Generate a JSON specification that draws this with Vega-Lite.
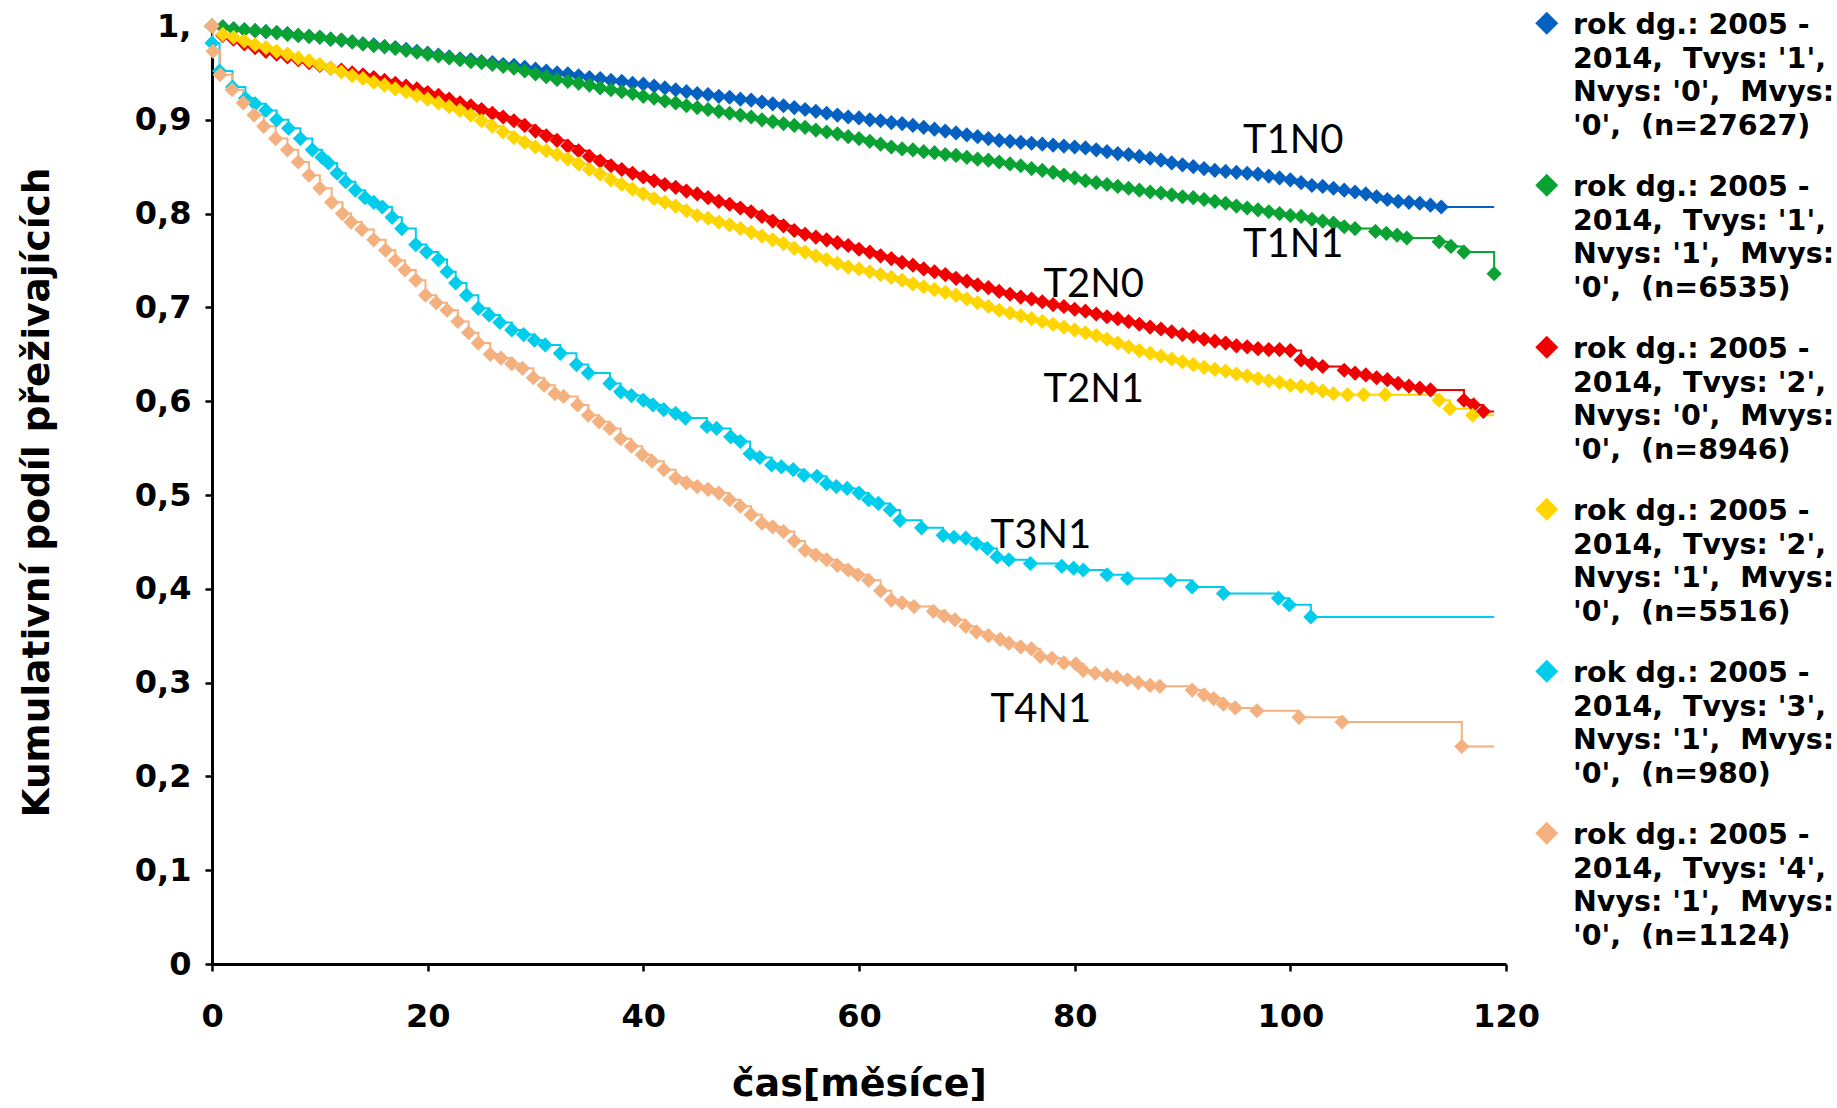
{
"$schema":"https://vega.github.io/schema/vega-lite/v6.json",
"autosize":{"type":"none"},
"padding":{"left":212,"top":26,"right":331,"bottom":144},
"width":1294,"height":938,
"background":"white",
"datasets":{
"pts":[
{"k":"T1N0","t":0,"s":1.0},{"k":"T1N0","t":1,"s":0.999},{"k":"T1N0","t":2,"s":0.997},{"k":"T1N0","t":3,"s":0.996},{"k":"T1N0","t":4,"s":0.995},{"k":"T1N0","t":5,"s":0.994},{"k":"T1N0","t":6,"s":0.993},{"k":"T1N0","t":7,"s":0.992},{"k":"T1N0","t":8,"s":0.990},{"k":"T1N0","t":9,"s":0.989},{"k":"T1N0","t":10,"s":0.988},{"k":"T1N0","t":11,"s":0.986},{"k":"T1N0","t":12,"s":0.985},{"k":"T1N0","t":13,"s":0.983},{"k":"T1N0","t":14,"s":0.981},{"k":"T1N0","t":15,"s":0.980},{"k":"T1N0","t":16,"s":0.978},{"k":"T1N0","t":17,"s":0.977},{"k":"T1N0","t":18,"s":0.975},{"k":"T1N0","t":19,"s":0.973},{"k":"T1N0","t":20,"s":0.971},{"k":"T1N0","t":21,"s":0.969},{"k":"T1N0","t":22,"s":0.967},{"k":"T1N0","t":23,"s":0.965},{"k":"T1N0","t":24,"s":0.964},{"k":"T1N0","t":25,"s":0.962},{"k":"T1N0","t":26,"s":0.961},{"k":"T1N0","t":27,"s":0.959},{"k":"T1N0","t":28,"s":0.958},{"k":"T1N0","t":29,"s":0.956},{"k":"T1N0","t":30,"s":0.954},{"k":"T1N0","t":31,"s":0.952},{"k":"T1N0","t":32,"s":0.950},{"k":"T1N0","t":33,"s":0.949},{"k":"T1N0","t":34,"s":0.947},{"k":"T1N0","t":35,"s":0.945},{"k":"T1N0","t":36,"s":0.944},{"k":"T1N0","t":37,"s":0.942},{"k":"T1N0","t":38,"s":0.941},{"k":"T1N0","t":39,"s":0.939},{"k":"T1N0","t":40,"s":0.938},{"k":"T1N0","t":41,"s":0.936},{"k":"T1N0","t":42,"s":0.934},{"k":"T1N0","t":43,"s":0.932},{"k":"T1N0","t":44,"s":0.930},{"k":"T1N0","t":45,"s":0.928},{"k":"T1N0","t":46,"s":0.927},{"k":"T1N0","t":47,"s":0.925},{"k":"T1N0","t":48,"s":0.924},{"k":"T1N0","t":49,"s":0.922},{"k":"T1N0","t":50,"s":0.921},{"k":"T1N0","t":51,"s":0.919},{"k":"T1N0","t":52,"s":0.917},{"k":"T1N0","t":53,"s":0.915},{"k":"T1N0","t":54,"s":0.913},{"k":"T1N0","t":55,"s":0.911},{"k":"T1N0","t":56,"s":0.909},{"k":"T1N0","t":57,"s":0.907},{"k":"T1N0","t":58,"s":0.905},{"k":"T1N0","t":59,"s":0.903},{"k":"T1N0","t":60,"s":0.902},{"k":"T1N0","t":61,"s":0.900},{"k":"T1N0","t":62,"s":0.899},{"k":"T1N0","t":63,"s":0.897},{"k":"T1N0","t":64,"s":0.896},{"k":"T1N0","t":65,"s":0.894},{"k":"T1N0","t":66,"s":0.892},{"k":"T1N0","t":67,"s":0.890},{"k":"T1N0","t":68,"s":0.888},{"k":"T1N0","t":69,"s":0.886},{"k":"T1N0","t":70,"s":0.884},{"k":"T1N0","t":71,"s":0.882},{"k":"T1N0","t":72,"s":0.880},{"k":"T1N0","t":73,"s":0.878},{"k":"T1N0","t":74,"s":0.877},{"k":"T1N0","t":75,"s":0.876},{"k":"T1N0","t":76,"s":0.875},{"k":"T1N0","t":77,"s":0.874},{"k":"T1N0","t":78,"s":0.873},{"k":"T1N0","t":79,"s":0.872},{"k":"T1N0","t":80,"s":0.871},{"k":"T1N0","t":81,"s":0.870},{"k":"T1N0","t":82,"s":0.868},{"k":"T1N0","t":83,"s":0.866},{"k":"T1N0","t":84,"s":0.864},{"k":"T1N0","t":85,"s":0.863},{"k":"T1N0","t":86,"s":0.861},{"k":"T1N0","t":87,"s":0.859},{"k":"T1N0","t":88,"s":0.857},{"k":"T1N0","t":89,"s":0.854},{"k":"T1N0","t":90,"s":0.852},{"k":"T1N0","t":91,"s":0.850},{"k":"T1N0","t":92,"s":0.848},{"k":"T1N0","t":93,"s":0.846},{"k":"T1N0","t":94,"s":0.845},{"k":"T1N0","t":95,"s":0.844},{"k":"T1N0","t":96,"s":0.843},{"k":"T1N0","t":97,"s":0.842},{"k":"T1N0","t":98,"s":0.840},{"k":"T1N0","t":99,"s":0.838},{"k":"T1N0","t":100,"s":0.836},{"k":"T1N0","t":101,"s":0.833},{"k":"T1N0","t":102,"s":0.830},{"k":"T1N0","t":103,"s":0.829},{"k":"T1N0","t":104,"s":0.827},{"k":"T1N0","t":105,"s":0.825},{"k":"T1N0","t":106,"s":0.823},{"k":"T1N0","t":107,"s":0.821},{"k":"T1N0","t":108,"s":0.818},{"k":"T1N0","t":109,"s":0.815},{"k":"T1N0","t":110,"s":0.813},{"k":"T1N0","t":111,"s":0.812},{"k":"T1N0","t":112,"s":0.811},{"k":"T1N0","t":113,"s":0.809},{"k":"T1N0","t":114,"s":0.807},
{"k":"T1N1","t":0,"s":1.0},{"k":"T1N1","t":1,"s":0.999},{"k":"T1N1","t":2,"s":0.997},{"k":"T1N1","t":3,"s":0.996},{"k":"T1N1","t":4,"s":0.995},{"k":"T1N1","t":5,"s":0.994},{"k":"T1N1","t":6,"s":0.993},{"k":"T1N1","t":7,"s":0.991},{"k":"T1N1","t":8,"s":0.990},{"k":"T1N1","t":9,"s":0.989},{"k":"T1N1","t":10,"s":0.988},{"k":"T1N1","t":11,"s":0.986},{"k":"T1N1","t":12,"s":0.985},{"k":"T1N1","t":13,"s":0.983},{"k":"T1N1","t":14,"s":0.981},{"k":"T1N1","t":15,"s":0.979},{"k":"T1N1","t":16,"s":0.978},{"k":"T1N1","t":17,"s":0.976},{"k":"T1N1","t":18,"s":0.974},{"k":"T1N1","t":19,"s":0.972},{"k":"T1N1","t":20,"s":0.970},{"k":"T1N1","t":21,"s":0.968},{"k":"T1N1","t":22,"s":0.966},{"k":"T1N1","t":23,"s":0.964},{"k":"T1N1","t":24,"s":0.962},{"k":"T1N1","t":25,"s":0.961},{"k":"T1N1","t":26,"s":0.959},{"k":"T1N1","t":27,"s":0.957},{"k":"T1N1","t":28,"s":0.955},{"k":"T1N1","t":29,"s":0.952},{"k":"T1N1","t":30,"s":0.949},{"k":"T1N1","t":31,"s":0.946},{"k":"T1N1","t":32,"s":0.943},{"k":"T1N1","t":33,"s":0.941},{"k":"T1N1","t":34,"s":0.939},{"k":"T1N1","t":35,"s":0.937},{"k":"T1N1","t":36,"s":0.934},{"k":"T1N1","t":37,"s":0.932},{"k":"T1N1","t":38,"s":0.930},{"k":"T1N1","t":39,"s":0.928},{"k":"T1N1","t":40,"s":0.925},{"k":"T1N1","t":41,"s":0.923},{"k":"T1N1","t":42,"s":0.920},{"k":"T1N1","t":43,"s":0.918},{"k":"T1N1","t":44,"s":0.915},{"k":"T1N1","t":45,"s":0.913},{"k":"T1N1","t":46,"s":0.911},{"k":"T1N1","t":47,"s":0.909},{"k":"T1N1","t":48,"s":0.907},{"k":"T1N1","t":49,"s":0.905},{"k":"T1N1","t":50,"s":0.903},{"k":"T1N1","t":51,"s":0.900},{"k":"T1N1","t":52,"s":0.898},{"k":"T1N1","t":53,"s":0.896},{"k":"T1N1","t":54,"s":0.894},{"k":"T1N1","t":55,"s":0.892},{"k":"T1N1","t":56,"s":0.889},{"k":"T1N1","t":57,"s":0.887},{"k":"T1N1","t":58,"s":0.885},{"k":"T1N1","t":59,"s":0.882},{"k":"T1N1","t":60,"s":0.880},{"k":"T1N1","t":61,"s":0.877},{"k":"T1N1","t":62,"s":0.874},{"k":"T1N1","t":63,"s":0.871},{"k":"T1N1","t":64,"s":0.869},{"k":"T1N1","t":65,"s":0.868},{"k":"T1N1","t":66,"s":0.866},{"k":"T1N1","t":67,"s":0.865},{"k":"T1N1","t":68,"s":0.863},{"k":"T1N1","t":69,"s":0.862},{"k":"T1N1","t":70,"s":0.860},{"k":"T1N1","t":71,"s":0.858},{"k":"T1N1","t":72,"s":0.857},{"k":"T1N1","t":73,"s":0.855},{"k":"T1N1","t":74,"s":0.853},{"k":"T1N1","t":75,"s":0.851},{"k":"T1N1","t":76,"s":0.848},{"k":"T1N1","t":77,"s":0.846},{"k":"T1N1","t":78,"s":0.844},{"k":"T1N1","t":79,"s":0.841},{"k":"T1N1","t":80,"s":0.838},{"k":"T1N1","t":81,"s":0.835},{"k":"T1N1","t":82,"s":0.833},{"k":"T1N1","t":83,"s":0.831},{"k":"T1N1","t":84,"s":0.829},{"k":"T1N1","t":85,"s":0.827},{"k":"T1N1","t":86,"s":0.825},{"k":"T1N1","t":87,"s":0.823},{"k":"T1N1","t":88,"s":0.822},{"k":"T1N1","t":89,"s":0.820},{"k":"T1N1","t":90,"s":0.818},{"k":"T1N1","t":91,"s":0.817},{"k":"T1N1","t":92,"s":0.815},{"k":"T1N1","t":93,"s":0.813},{"k":"T1N1","t":94,"s":0.811},{"k":"T1N1","t":95,"s":0.808},{"k":"T1N1","t":96,"s":0.806},{"k":"T1N1","t":97,"s":0.804},{"k":"T1N1","t":98,"s":0.802},{"k":"T1N1","t":99,"s":0.800},{"k":"T1N1","t":100,"s":0.798},{"k":"T1N1","t":101,"s":0.797},{"k":"T1N1","t":102,"s":0.794},{"k":"T1N1","t":103,"s":0.792},{"k":"T1N1","t":104,"s":0.790},{"k":"T1N1","t":105,"s":0.786},{"k":"T1N1","t":106,"s":0.784},{"k":"T1N1","t":107.9,"s":0.781},{"k":"T1N1","t":108.9,"s":0.779},{"k":"T1N1","t":109.9,"s":0.777},{"k":"T1N1","t":110.8,"s":0.774},{"k":"T1N1","t":113.8,"s":0.770},{"k":"T1N1","t":114.9,"s":0.765},{"k":"T1N1","t":116.1,"s":0.759},{"k":"T1N1","t":118.9,"s":0.736},
{"k":"T2N0","t":0,"s":1.0},{"k":"T2N0","t":1,"s":0.990},{"k":"T2N0","t":2,"s":0.986},{"k":"T2N0","t":3,"s":0.981},{"k":"T2N0","t":4,"s":0.977},{"k":"T2N0","t":5,"s":0.973},{"k":"T2N0","t":6,"s":0.970},{"k":"T2N0","t":7,"s":0.967},{"k":"T2N0","t":8,"s":0.964},{"k":"T2N0","t":9,"s":0.961},{"k":"T2N0","t":10,"s":0.958},{"k":"T2N0","t":11,"s":0.955},{"k":"T2N0","t":12,"s":0.953},{"k":"T2N0","t":13,"s":0.950},{"k":"T2N0","t":14,"s":0.948},{"k":"T2N0","t":15,"s":0.945},{"k":"T2N0","t":16,"s":0.942},{"k":"T2N0","t":17,"s":0.939},{"k":"T2N0","t":18,"s":0.936},{"k":"T2N0","t":19,"s":0.933},{"k":"T2N0","t":20,"s":0.929},{"k":"T2N0","t":21,"s":0.926},{"k":"T2N0","t":22,"s":0.922},{"k":"T2N0","t":23,"s":0.918},{"k":"T2N0","t":24,"s":0.915},{"k":"T2N0","t":25,"s":0.911},{"k":"T2N0","t":26,"s":0.907},{"k":"T2N0","t":27,"s":0.903},{"k":"T2N0","t":28,"s":0.899},{"k":"T2N0","t":29,"s":0.894},{"k":"T2N0","t":30,"s":0.888},{"k":"T2N0","t":31,"s":0.883},{"k":"T2N0","t":32,"s":0.878},{"k":"T2N0","t":33,"s":0.872},{"k":"T2N0","t":34,"s":0.867},{"k":"T2N0","t":35,"s":0.861},{"k":"T2N0","t":36,"s":0.856},{"k":"T2N0","t":37,"s":0.851},{"k":"T2N0","t":38,"s":0.847},{"k":"T2N0","t":39,"s":0.843},{"k":"T2N0","t":40,"s":0.839},{"k":"T2N0","t":41,"s":0.835},{"k":"T2N0","t":42,"s":0.831},{"k":"T2N0","t":43,"s":0.828},{"k":"T2N0","t":44,"s":0.824},{"k":"T2N0","t":45,"s":0.821},{"k":"T2N0","t":46,"s":0.817},{"k":"T2N0","t":47,"s":0.813},{"k":"T2N0","t":48,"s":0.810},{"k":"T2N0","t":49,"s":0.806},{"k":"T2N0","t":50,"s":0.802},{"k":"T2N0","t":51,"s":0.797},{"k":"T2N0","t":52,"s":0.792},{"k":"T2N0","t":53,"s":0.787},{"k":"T2N0","t":54,"s":0.782},{"k":"T2N0","t":55,"s":0.778},{"k":"T2N0","t":56,"s":0.775},{"k":"T2N0","t":57,"s":0.772},{"k":"T2N0","t":58,"s":0.769},{"k":"T2N0","t":59,"s":0.766},{"k":"T2N0","t":60,"s":0.762},{"k":"T2N0","t":61,"s":0.759},{"k":"T2N0","t":62,"s":0.755},{"k":"T2N0","t":63,"s":0.752},{"k":"T2N0","t":64,"s":0.748},{"k":"T2N0","t":65,"s":0.745},{"k":"T2N0","t":66,"s":0.741},{"k":"T2N0","t":67,"s":0.738},{"k":"T2N0","t":68,"s":0.735},{"k":"T2N0","t":69,"s":0.731},{"k":"T2N0","t":70,"s":0.728},{"k":"T2N0","t":71,"s":0.724},{"k":"T2N0","t":72,"s":0.721},{"k":"T2N0","t":73,"s":0.717},{"k":"T2N0","t":74,"s":0.714},{"k":"T2N0","t":75,"s":0.711},{"k":"T2N0","t":76,"s":0.709},{"k":"T2N0","t":77,"s":0.706},{"k":"T2N0","t":78,"s":0.703},{"k":"T2N0","t":79,"s":0.701},{"k":"T2N0","t":80,"s":0.698},{"k":"T2N0","t":81,"s":0.696},{"k":"T2N0","t":82,"s":0.693},{"k":"T2N0","t":83,"s":0.690},{"k":"T2N0","t":84,"s":0.688},{"k":"T2N0","t":85,"s":0.685},{"k":"T2N0","t":86,"s":0.682},{"k":"T2N0","t":87,"s":0.679},{"k":"T2N0","t":88,"s":0.677},{"k":"T2N0","t":89,"s":0.674},{"k":"T2N0","t":90,"s":0.671},{"k":"T2N0","t":91,"s":0.669},{"k":"T2N0","t":92,"s":0.666},{"k":"T2N0","t":93,"s":0.664},{"k":"T2N0","t":94,"s":0.662},{"k":"T2N0","t":95,"s":0.659},{"k":"T2N0","t":96,"s":0.658},{"k":"T2N0","t":97,"s":0.656},{"k":"T2N0","t":98,"s":0.655},{"k":"T2N0","t":99,"s":0.655},{"k":"T2N0","t":100,"s":0.654},{"k":"T2N0","t":101,"s":0.644},{"k":"T2N0","t":102,"s":0.640},{"k":"T2N0","t":103,"s":0.637},{"k":"T2N0","t":105,"s":0.633},{"k":"T2N0","t":106,"s":0.630},{"k":"T2N0","t":107,"s":0.628},{"k":"T2N0","t":108,"s":0.625},{"k":"T2N0","t":109,"s":0.623},{"k":"T2N0","t":110,"s":0.619},{"k":"T2N0","t":111,"s":0.616},{"k":"T2N0","t":112,"s":0.614},{"k":"T2N0","t":113,"s":0.612},{"k":"T2N0","t":116.1,"s":0.601},{"k":"T2N0","t":117,"s":0.596},{"k":"T2N0","t":117.9,"s":0.589},
{"k":"T2N1","t":0,"s":1.0},{"k":"T2N1","t":1,"s":0.991},{"k":"T2N1","t":2,"s":0.988},{"k":"T2N1","t":3,"s":0.984},{"k":"T2N1","t":4,"s":0.980},{"k":"T2N1","t":5,"s":0.977},{"k":"T2N1","t":6,"s":0.973},{"k":"T2N1","t":7,"s":0.970},{"k":"T2N1","t":8,"s":0.966},{"k":"T2N1","t":9,"s":0.963},{"k":"T2N1","t":10,"s":0.959},{"k":"T2N1","t":11,"s":0.955},{"k":"T2N1","t":12,"s":0.951},{"k":"T2N1","t":13,"s":0.947},{"k":"T2N1","t":14,"s":0.944},{"k":"T2N1","t":15,"s":0.940},{"k":"T2N1","t":16,"s":0.937},{"k":"T2N1","t":17,"s":0.933},{"k":"T2N1","t":18,"s":0.930},{"k":"T2N1","t":19,"s":0.926},{"k":"T2N1","t":20,"s":0.922},{"k":"T2N1","t":21,"s":0.918},{"k":"T2N1","t":22,"s":0.914},{"k":"T2N1","t":23,"s":0.910},{"k":"T2N1","t":24,"s":0.905},{"k":"T2N1","t":25,"s":0.899},{"k":"T2N1","t":26,"s":0.893},{"k":"T2N1","t":27,"s":0.887},{"k":"T2N1","t":28,"s":0.881},{"k":"T2N1","t":29,"s":0.876},{"k":"T2N1","t":30,"s":0.871},{"k":"T2N1","t":31,"s":0.867},{"k":"T2N1","t":32,"s":0.863},{"k":"T2N1","t":33,"s":0.858},{"k":"T2N1","t":34,"s":0.853},{"k":"T2N1","t":35,"s":0.847},{"k":"T2N1","t":36,"s":0.842},{"k":"T2N1","t":37,"s":0.836},{"k":"T2N1","t":38,"s":0.831},{"k":"T2N1","t":39,"s":0.826},{"k":"T2N1","t":40,"s":0.821},{"k":"T2N1","t":41,"s":0.816},{"k":"T2N1","t":42,"s":0.812},{"k":"T2N1","t":43,"s":0.808},{"k":"T2N1","t":44,"s":0.803},{"k":"T2N1","t":45,"s":0.798},{"k":"T2N1","t":46,"s":0.795},{"k":"T2N1","t":47,"s":0.791},{"k":"T2N1","t":48,"s":0.788},{"k":"T2N1","t":49,"s":0.784},{"k":"T2N1","t":50,"s":0.780},{"k":"T2N1","t":51,"s":0.776},{"k":"T2N1","t":52,"s":0.772},{"k":"T2N1","t":53,"s":0.768},{"k":"T2N1","t":54,"s":0.763},{"k":"T2N1","t":55,"s":0.759},{"k":"T2N1","t":56,"s":0.755},{"k":"T2N1","t":57,"s":0.751},{"k":"T2N1","t":58,"s":0.747},{"k":"T2N1","t":59,"s":0.743},{"k":"T2N1","t":60,"s":0.741},{"k":"T2N1","t":61,"s":0.738},{"k":"T2N1","t":62,"s":0.735},{"k":"T2N1","t":63,"s":0.732},{"k":"T2N1","t":64,"s":0.729},{"k":"T2N1","t":65,"s":0.725},{"k":"T2N1","t":66,"s":0.722},{"k":"T2N1","t":67,"s":0.719},{"k":"T2N1","t":68,"s":0.716},{"k":"T2N1","t":69,"s":0.713},{"k":"T2N1","t":70,"s":0.709},{"k":"T2N1","t":71,"s":0.705},{"k":"T2N1","t":72,"s":0.701},{"k":"T2N1","t":73,"s":0.697},{"k":"T2N1","t":74,"s":0.694},{"k":"T2N1","t":75,"s":0.691},{"k":"T2N1","t":76,"s":0.688},{"k":"T2N1","t":77,"s":0.685},{"k":"T2N1","t":78,"s":0.682},{"k":"T2N1","t":79,"s":0.679},{"k":"T2N1","t":80,"s":0.676},{"k":"T2N1","t":81,"s":0.673},{"k":"T2N1","t":82,"s":0.670},{"k":"T2N1","t":83,"s":0.666},{"k":"T2N1","t":84,"s":0.662},{"k":"T2N1","t":85,"s":0.658},{"k":"T2N1","t":86,"s":0.654},{"k":"T2N1","t":87,"s":0.651},{"k":"T2N1","t":88,"s":0.648},{"k":"T2N1","t":89,"s":0.645},{"k":"T2N1","t":90,"s":0.642},{"k":"T2N1","t":91,"s":0.639},{"k":"T2N1","t":92,"s":0.636},{"k":"T2N1","t":93,"s":0.634},{"k":"T2N1","t":94,"s":0.632},{"k":"T2N1","t":95,"s":0.629},{"k":"T2N1","t":96,"s":0.627},{"k":"T2N1","t":97,"s":0.624},{"k":"T2N1","t":98,"s":0.622},{"k":"T2N1","t":99,"s":0.620},{"k":"T2N1","t":100,"s":0.617},{"k":"T2N1","t":101,"s":0.616},{"k":"T2N1","t":102,"s":0.614},{"k":"T2N1","t":103,"s":0.611},{"k":"T2N1","t":104,"s":0.608},{"k":"T2N1","t":105.3,"s":0.607},{"k":"T2N1","t":106.8,"s":0.607},{"k":"T2N1","t":108.8,"s":0.607},{"k":"T2N1","t":113.8,"s":0.601},{"k":"T2N1","t":114.8,"s":0.592},{"k":"T2N1","t":116.9,"s":0.585},
{"k":"T3N1","t":0,"s":0.982},{"k":"T3N1","t":0.7,"s":0.952},{"k":"T3N1","t":1.9,"s":0.935},{"k":"T3N1","t":3.1,"s":0.923},{"k":"T3N1","t":4.0,"s":0.917},{"k":"T3N1","t":5.0,"s":0.910},{"k":"T3N1","t":6.0,"s":0.900},{"k":"T3N1","t":7.1,"s":0.891},{"k":"T3N1","t":8.2,"s":0.880},{"k":"T3N1","t":9.3,"s":0.868},{"k":"T3N1","t":10.2,"s":0.860},{"k":"T3N1","t":10.8,"s":0.854},{"k":"T3N1","t":11.6,"s":0.843},{"k":"T3N1","t":12.4,"s":0.834},{"k":"T3N1","t":13.3,"s":0.825},{"k":"T3N1","t":14.2,"s":0.817},{"k":"T3N1","t":15.0,"s":0.812},{"k":"T3N1","t":15.8,"s":0.807},{"k":"T3N1","t":16.7,"s":0.796},{"k":"T3N1","t":17.6,"s":0.784},{"k":"T3N1","t":18.9,"s":0.767},{"k":"T3N1","t":19.9,"s":0.759},{"k":"T3N1","t":21.0,"s":0.751},{"k":"T3N1","t":21.8,"s":0.738},{"k":"T3N1","t":22.6,"s":0.726},{"k":"T3N1","t":23.6,"s":0.713},{"k":"T3N1","t":24.7,"s":0.699},{"k":"T3N1","t":25.7,"s":0.692},{"k":"T3N1","t":26.7,"s":0.684},{"k":"T3N1","t":27.8,"s":0.676},{"k":"T3N1","t":28.9,"s":0.671},{"k":"T3N1","t":29.9,"s":0.665},{"k":"T3N1","t":30.9,"s":0.660},{"k":"T3N1","t":32.3,"s":0.651},{"k":"T3N1","t":33.8,"s":0.639},{"k":"T3N1","t":34.9,"s":0.630},{"k":"T3N1","t":36.9,"s":0.619},{"k":"T3N1","t":37.9,"s":0.610},{"k":"T3N1","t":38.9,"s":0.606},{"k":"T3N1","t":40.0,"s":0.601},{"k":"T3N1","t":40.9,"s":0.596},{"k":"T3N1","t":41.9,"s":0.591},{"k":"T3N1","t":43.0,"s":0.587},{"k":"T3N1","t":43.9,"s":0.582},{"k":"T3N1","t":45.9,"s":0.573},{"k":"T3N1","t":46.8,"s":0.571},{"k":"T3N1","t":48.1,"s":0.562},{"k":"T3N1","t":49.0,"s":0.557},{"k":"T3N1","t":49.9,"s":0.544},{"k":"T3N1","t":50.8,"s":0.540},{"k":"T3N1","t":51.9,"s":0.532},{"k":"T3N1","t":52.8,"s":0.530},{"k":"T3N1","t":53.9,"s":0.527},{"k":"T3N1","t":54.9,"s":0.521},{"k":"T3N1","t":56.1,"s":0.520},{"k":"T3N1","t":57.0,"s":0.512},{"k":"T3N1","t":57.9,"s":0.509},{"k":"T3N1","t":58.9,"s":0.507},{"k":"T3N1","t":60.0,"s":0.502},{"k":"T3N1","t":60.9,"s":0.495},{"k":"T3N1","t":61.8,"s":0.491},{"k":"T3N1","t":62.9,"s":0.484},{"k":"T3N1","t":63.8,"s":0.473},{"k":"T3N1","t":65.8,"s":0.465},{"k":"T3N1","t":67.8,"s":0.457},{"k":"T3N1","t":68.8,"s":0.455},{"k":"T3N1","t":69.9,"s":0.454},{"k":"T3N1","t":70.9,"s":0.448},{"k":"T3N1","t":71.9,"s":0.443},{"k":"T3N1","t":72.8,"s":0.434},{"k":"T3N1","t":73.9,"s":0.431},{"k":"T3N1","t":75.9,"s":0.427},{"k":"T3N1","t":78.8,"s":0.424},{"k":"T3N1","t":79.9,"s":0.422},{"k":"T3N1","t":80.8,"s":0.420},{"k":"T3N1","t":83.0,"s":0.415},{"k":"T3N1","t":84.9,"s":0.411},{"k":"T3N1","t":88.9,"s":0.409},{"k":"T3N1","t":90.9,"s":0.402},{"k":"T3N1","t":93.8,"s":0.395},{"k":"T3N1","t":98.9,"s":0.390},{"k":"T3N1","t":99.9,"s":0.383},{"k":"T3N1","t":101.9,"s":0.370},
{"k":"T4N1","t":0,"s":1.0},{"k":"T4N1","t":0.1,"s":0.973},{"k":"T4N1","t":0.75,"s":0.948},{"k":"T4N1","t":1.86,"s":0.932},{"k":"T4N1","t":2.9,"s":0.918},{"k":"T4N1","t":3.9,"s":0.905},{"k":"T4N1","t":4.8,"s":0.893},{"k":"T4N1","t":5.9,"s":0.880},{"k":"T4N1","t":7.0,"s":0.868},{"k":"T4N1","t":8.0,"s":0.855},{"k":"T4N1","t":9.0,"s":0.841},{"k":"T4N1","t":10.0,"s":0.827},{"k":"T4N1","t":11.1,"s":0.812},{"k":"T4N1","t":12.1,"s":0.800},{"k":"T4N1","t":12.9,"s":0.791},{"k":"T4N1","t":13.9,"s":0.783},{"k":"T4N1","t":15.0,"s":0.772},{"k":"T4N1","t":16.1,"s":0.761},{"k":"T4N1","t":17.0,"s":0.750},{"k":"T4N1","t":17.9,"s":0.740},{"k":"T4N1","t":18.9,"s":0.729},{"k":"T4N1","t":19.8,"s":0.713},{"k":"T4N1","t":20.8,"s":0.705},{"k":"T4N1","t":21.8,"s":0.697},{"k":"T4N1","t":22.8,"s":0.685},{"k":"T4N1","t":23.8,"s":0.673},{"k":"T4N1","t":24.7,"s":0.662},{"k":"T4N1","t":25.8,"s":0.650},{"k":"T4N1","t":26.8,"s":0.646},{"k":"T4N1","t":27.8,"s":0.640},{"k":"T4N1","t":28.8,"s":0.635},{"k":"T4N1","t":29.8,"s":0.625},{"k":"T4N1","t":30.8,"s":0.617},{"k":"T4N1","t":31.8,"s":0.608},{"k":"T4N1","t":32.6,"s":0.605},{"k":"T4N1","t":33.9,"s":0.596},{"k":"T4N1","t":34.9,"s":0.585},{"k":"T4N1","t":35.9,"s":0.578},{"k":"T4N1","t":36.9,"s":0.571},{"k":"T4N1","t":37.9,"s":0.560},{"k":"T4N1","t":38.9,"s":0.552},{"k":"T4N1","t":39.9,"s":0.543},{"k":"T4N1","t":40.8,"s":0.536},{"k":"T4N1","t":41.9,"s":0.527},{"k":"T4N1","t":43.0,"s":0.518},{"k":"T4N1","t":44.0,"s":0.513},{"k":"T4N1","t":45.0,"s":0.509},{"k":"T4N1","t":46.0,"s":0.506},{"k":"T4N1","t":47.0,"s":0.502},{"k":"T4N1","t":48.0,"s":0.495},{"k":"T4N1","t":49.0,"s":0.488},{"k":"T4N1","t":50.0,"s":0.479},{"k":"T4N1","t":51.0,"s":0.470},{"k":"T4N1","t":52.0,"s":0.466},{"k":"T4N1","t":53.0,"s":0.461},{"k":"T4N1","t":54.0,"s":0.451},{"k":"T4N1","t":55.0,"s":0.441},{"k":"T4N1","t":56.0,"s":0.436},{"k":"T4N1","t":57.0,"s":0.431},{"k":"T4N1","t":58.0,"s":0.425},{"k":"T4N1","t":59.0,"s":0.420},{"k":"T4N1","t":59.9,"s":0.415},{"k":"T4N1","t":60.9,"s":0.409},{"k":"T4N1","t":62.0,"s":0.398},{"k":"T4N1","t":63.0,"s":0.388},{"k":"T4N1","t":64.0,"s":0.385},{"k":"T4N1","t":65.1,"s":0.381},{"k":"T4N1","t":66.9,"s":0.376},{"k":"T4N1","t":67.9,"s":0.371},{"k":"T4N1","t":68.9,"s":0.367},{"k":"T4N1","t":69.9,"s":0.360},{"k":"T4N1","t":70.9,"s":0.354},{"k":"T4N1","t":72.0,"s":0.350},{"k":"T4N1","t":73.1,"s":0.346},{"k":"T4N1","t":73.9,"s":0.342},{"k":"T4N1","t":75.0,"s":0.338},{"k":"T4N1","t":76.0,"s":0.336},{"k":"T4N1","t":76.8,"s":0.328},{"k":"T4N1","t":77.9,"s":0.326},{"k":"T4N1","t":79.0,"s":0.321},{"k":"T4N1","t":80.1,"s":0.320},{"k":"T4N1","t":80.8,"s":0.313},{"k":"T4N1","t":81.9,"s":0.310},{"k":"T4N1","t":83.0,"s":0.308},{"k":"T4N1","t":83.9,"s":0.306},{"k":"T4N1","t":84.9,"s":0.303},{"k":"T4N1","t":85.9,"s":0.300},{"k":"T4N1","t":87.0,"s":0.297},{"k":"T4N1","t":87.9,"s":0.296},{"k":"T4N1","t":90.9,"s":0.292},{"k":"T4N1","t":92.0,"s":0.287},{"k":"T4N1","t":92.9,"s":0.283},{"k":"T4N1","t":93.8,"s":0.277},{"k":"T4N1","t":94.9,"s":0.273},{"k":"T4N1","t":96.9,"s":0.270},{"k":"T4N1","t":100.8,"s":0.263},{"k":"T4N1","t":104.8,"s":0.258},{"k":"T4N1","t":115.9,"s":0.232}
],
"tails":[
{"k":"T1N0","t":114,"s":0.807},{"k":"T1N0","t":118.9,"s":0.807},
{"k":"T2N0","t":117.9,"s":0.589},{"k":"T2N0","t":118.9,"s":0.589},
{"k":"T2N1","t":116.9,"s":0.585},{"k":"T2N1","t":118.9,"s":0.585},
{"k":"T3N1","t":101.9,"s":0.370},{"k":"T3N1","t":118.9,"s":0.370},
{"k":"T4N1","t":115.9,"s":0.232},{"k":"T4N1","t":118.9,"s":0.232}
],
"labels":[
{"name":"T1N0","t":95.6,"s":0.877},
{"name":"T1N1","t":95.6,"s":0.766},
{"name":"T2N0","t":77.1,"s":0.724},
{"name":"T2N1","t":77.1,"s":0.612},
{"name":"T3N1","t":72.2,"s":0.456},
{"name":"T4N1","t":72.2,"s":0.271}
]
},
"encoding":{
"x":{"field":"t","type":"quantitative","scale":{"domain":[0,120],"nice":false,"zero":false},
"axis":{"title":"čas[měsíce]","values":[0,20,40,60,80,100,120],"labelFlush":false,"labelPadding":30,"tickSize":7,"titleY":120,"titleBaseline":"middle","titleFontSize":38}},
"y":{"field":"s","type":"quantitative","scale":{"domain":[0,1],"nice":false},
"axis":{"title":"Kumulativní podíl přeživajících","values":[0,0.1,0.2,0.3,0.4,0.5,0.6,0.7,0.8,0.9,1],"labelExpr":"datum.value == 1 ? '1,' : datum.value == 0 ? '0' : replace(format(datum.value, '.1f'), '.', ',')","labelPadding":14,"tickSize":7,"titleX":-174.5,"titleY":466,"titleBaseline":"middle","titleFontSize":37.5}}
},
"layer":[
{"data":{"name":"pts"},"mark":{"type":"line","interpolate":"step-after","strokeWidth":2},
"encoding":{"color":{"field":"k","type":"nominal"}}},
{"data":{"name":"tails"},"mark":{"type":"line","interpolate":"step-after","strokeWidth":2},
"encoding":{"color":{"field":"k","type":"nominal"}}},
{"data":{"name":"pts"},"mark":{"type":"point","shape":"diamond","filled":true,"size":230,"opacity":1},
"encoding":{"color":{"field":"k","type":"nominal",
"scale":{"domain":["T1N0","T1N1","T2N0","T2N1","T3N1","T4N1"],"range":["#0561C1","#0AA232","#F00000","#FFD500","#00CCEB","#F4B07E"]},
"legend":{"labelExpr":"[\"\u00a0rok dg.: 2005 -\", \"2014,\u00a0 Tvys: '\" + substring(datum.value, 1, 2) + \"',\", \"Nvys: '\" + substring(datum.value, 3, 4) + \"',\u00a0 Mvys:\", \"'0',\u00a0 (n=\" + (datum.value == 'T1N0' ? '27627' : datum.value == 'T1N1' ? '6535' : datum.value == 'T2N0' ? '8946' : datum.value == 'T2N1' ? '5516' : datum.value == 'T3N1' ? '980' : '1124') + \")\"]"}}}},
{"data":{"name":"labels"},"mark":{"type":"text","align":"left","baseline":"middle","font":"Lato","fontSize":40,"color":"black"},
"encoding":{"text":{"field":"name","type":"nominal"}}}
],
"config":{
"view":{"stroke":null},
"style":{"guide-label":{"lineHeight":33.6}},
"legend":{"title":null,"orient":"none","legendX":1320.5,"legendY":-29,"padding":0,
"symbolType":"M-1,1.05L0,0.05L1,1.05L0,2.05Z","symbolSize":529,"symbolStrokeWidth":0,
"labelFont":"DejaVu Sans","labelFontWeight":"bold","labelFontSize":28.5,"labelColor":"black","labelBaseline":"top","labelLimit":0,"labelOffset":12,"rowPadding":18},
"axis":{"domainColor":"black","domainWidth":3,"tickColor":"black","tickWidth":2.5,"grid":false,
"labelFont":"DejaVu Sans","labelFontWeight":"bold","labelFontSize":32,"labelColor":"black",
"titleFont":"DejaVu Sans","titleFontWeight":"bold","titleColor":"black"}
}
}
